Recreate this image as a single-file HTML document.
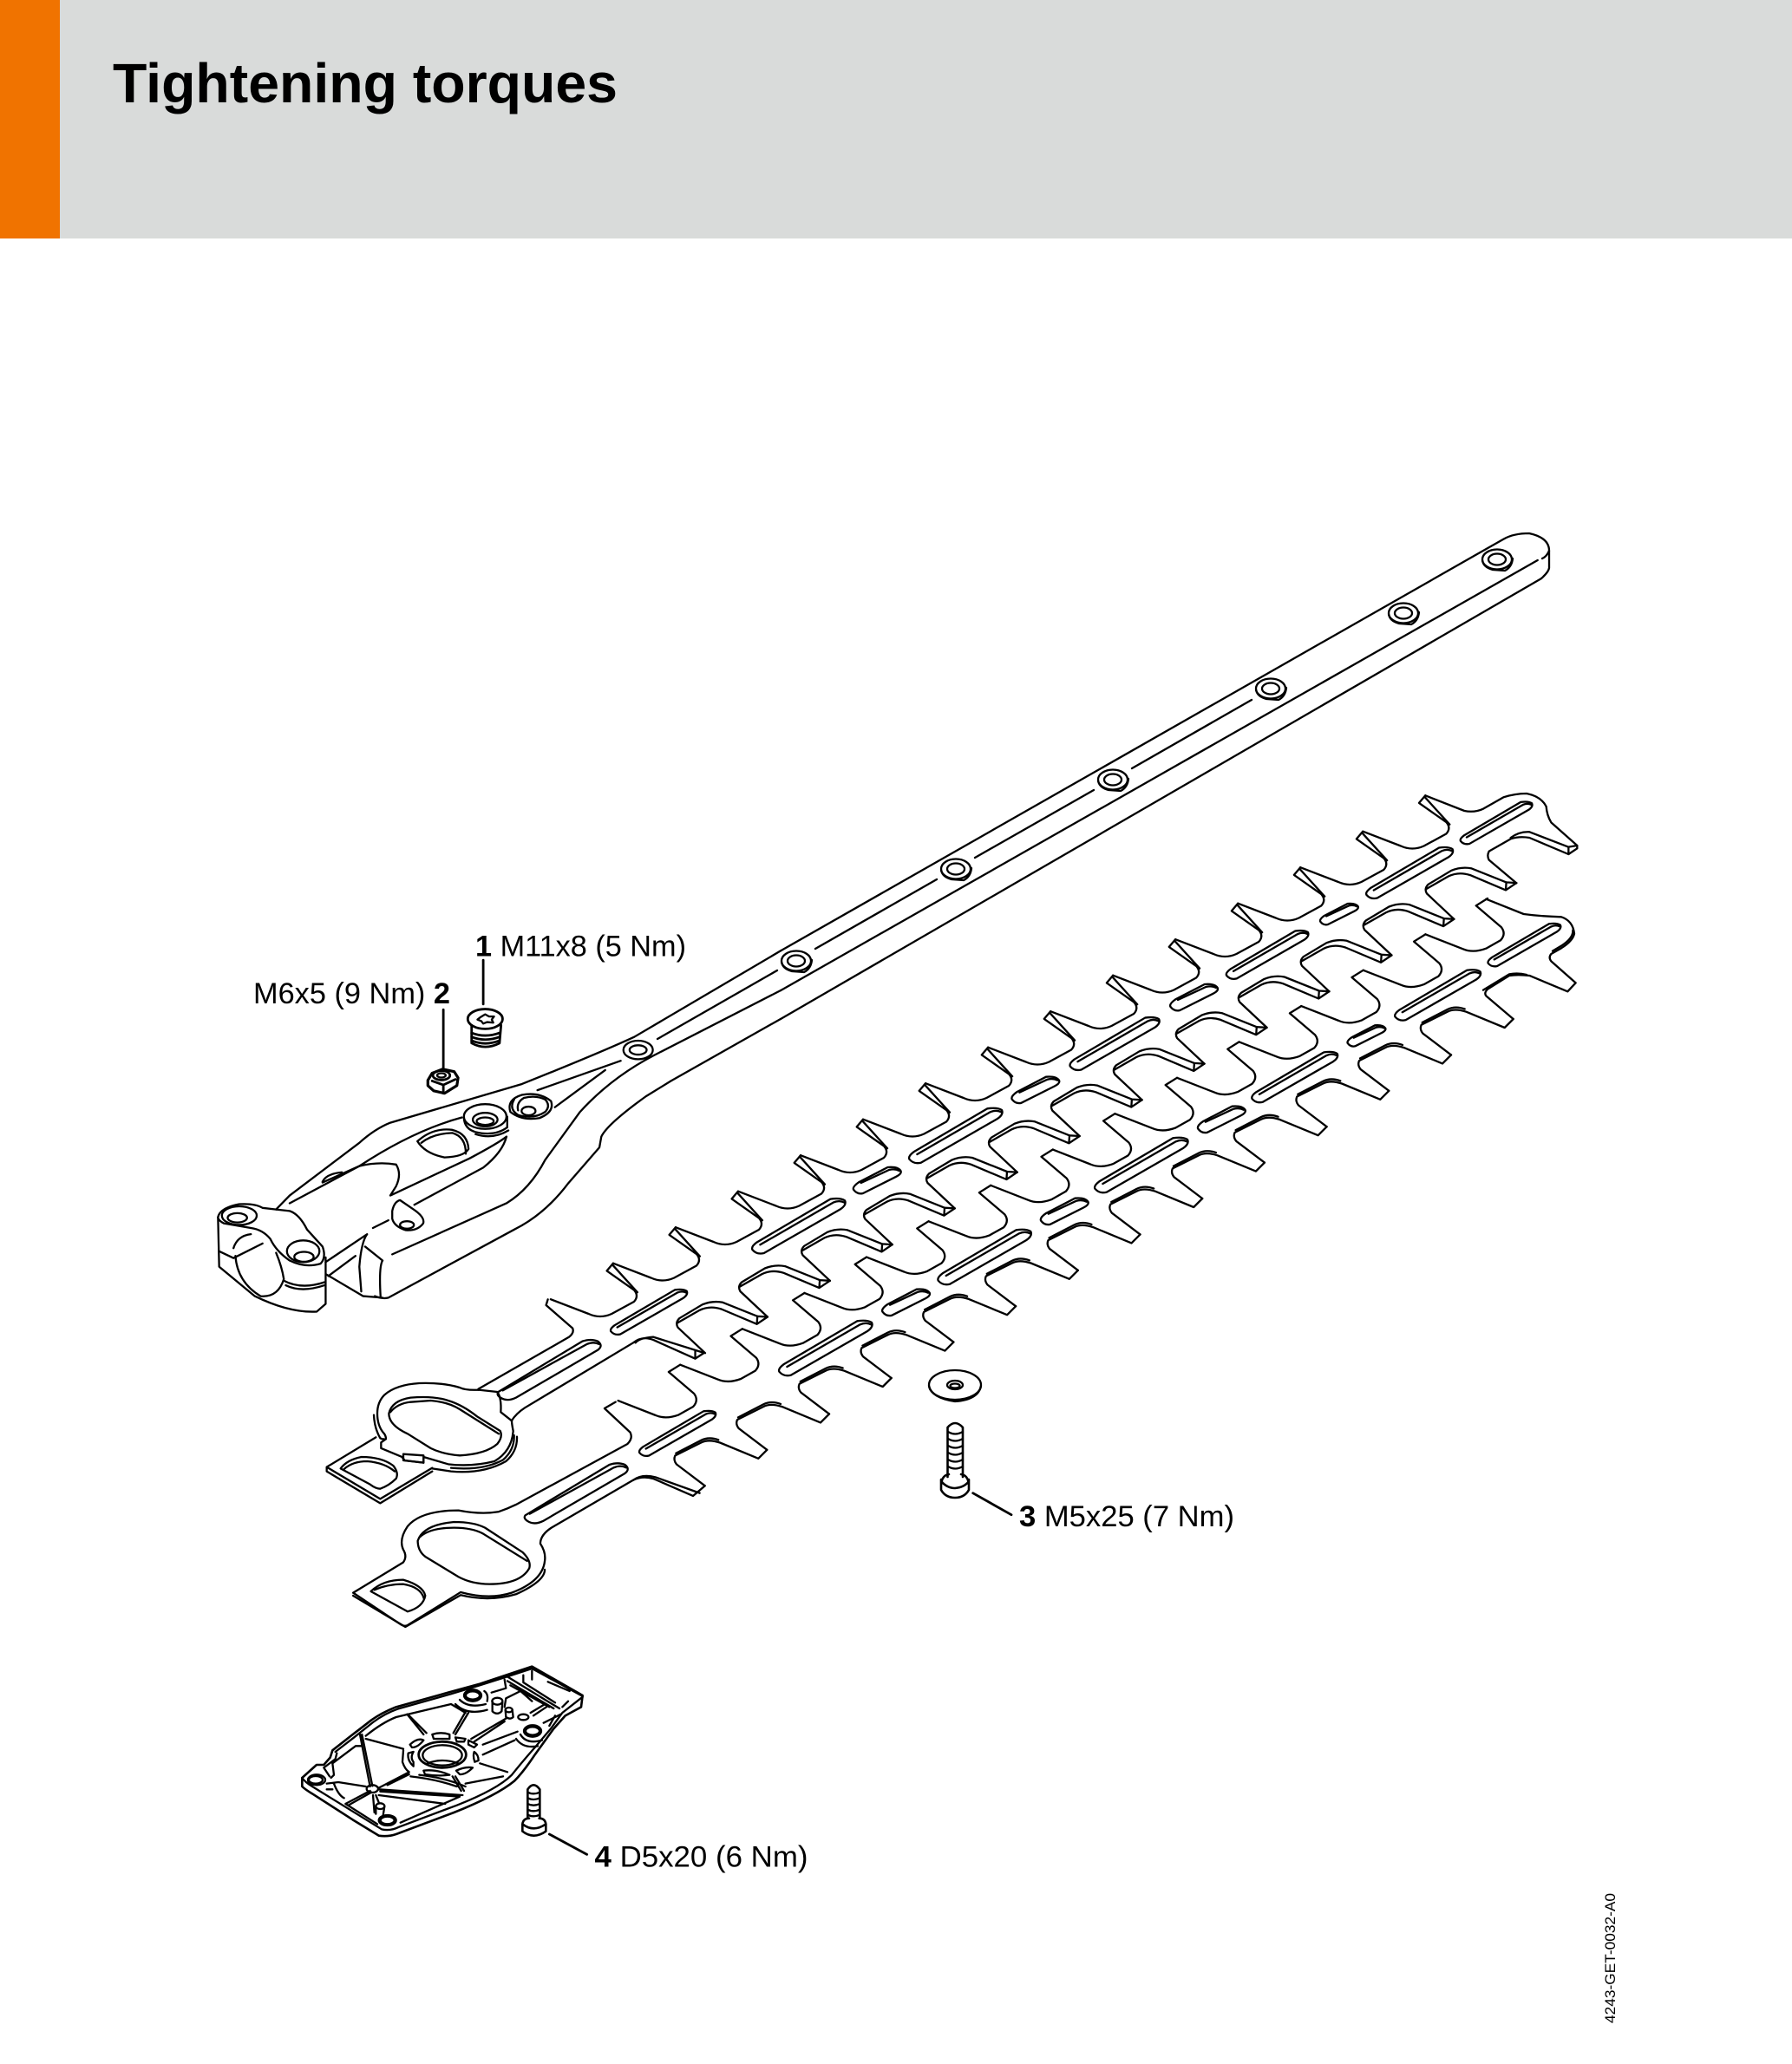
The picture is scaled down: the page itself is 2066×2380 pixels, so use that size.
<!DOCTYPE html>
<html><head><meta charset="utf-8"><title>Tightening torques</title>
<style>
html,body{margin:0;padding:0;background:#fff}
svg{display:block}
path,line,ellipse,polygon{fill:none;stroke:#000;stroke-width:2.3;vector-effect:non-scaling-stroke;stroke-linejoin:round;stroke-linecap:round}
text{font-family:"Liberation Sans",sans-serif;fill:#000}
</style></head><body>
<svg xmlns="http://www.w3.org/2000/svg" width="2066" height="2380" viewBox="0 0 2066 2380">
<defs>
<g id="T"><path d="M0 0L-7.3 8.7L24.3 31Q30 37.7 24 44.3L-1.7 58.3Q-15 64.3-28.3 58.3L-72 41.5"/><path d="M-1 1.5L28 33.5"/></g>
<g id="R"><path d="M0 0L-11.7-.7L-51.7-16.7Q-63.3-19-75-14.3L-101.7 1.7Q-106.7 6.7-103.3 12.3L-71.95 41.7"/><path d="M0 0L-12.3 8.3L-53.3-9Q-66.7-13.3-78.3-7.7L-104 7M-11.7-.7L-12.3 8.3"/></g>
<g id="U"><path d="M0 0L-13.3 8.3L16 33.3Q21.7 41 15 48.3L-1.7 57.7Q-16.7 63.3-28.3 58.3L-71.6 41.36"/></g>
<g id="V"><path d="M0 0L-10 10L-54.3-8.3Q-67.7-12.7-76-8.3L-106 6.7Q-108.3 11.7-104.3 16.7L-71.7 41.4"/><path d="M-56-11.5Q-67-15.5-76-11L-105 4"/></g>
<g id="L"><path d="M-40 30.7L48.3-20Q55.7-25 53.3-30Q48.3-33.3 36.7-31.7L-48.3 18.3Q-55 23.3-53.3 26.7Q-48.3 32.7-40 30.7Z"/><path d="M-44.3 21L40-27.7Q46.7-30.7 52.7-27.7"/></g>
<g id="S"><path d="M-15.7 15L22.7-4.3Q29.3-7.7 27.7-11Q24.3-16 12.7-15L-20.7 2.3Q-28 7.3-26.7 10.7Q-22.3 16.7-15.7 15Z"/><path d="M-18 3L14.3-12Q21-13.7 26-11"/></g>
<g id="W"><ellipse cx="0" cy="0" rx="17" ry="11.5"/><ellipse cx="0" cy="0" rx="10" ry="6.5"/><path d="M-17 1Q-16 9-5 12L9 13Q17 9 18-1"/></g>
</defs>

<rect x="0" y="0" width="2066" height="275" fill="#d9dbda"/>
<rect x="0" y="0" width="69" height="275" fill="#f07300"/>
<text x="130" y="118" font-size="64" font-weight="700" textLength="582" lengthAdjust="spacingAndGlyphs">Tightening torques</text>

<!-- bar, right part -->
<path d="M900 1096.4L1733.3 621.7Q1745 615 1763 615Q1786 620 1786 635Q1783 642 1778 644"/>
<path d="M900 1142.1L1772.7 646"/>
<path d="M900 1175L1776.7 667.3Q1785 660 1786 655L1786 635"/>
<path d="M758 1198L896 1119M940 1094L1080 1014M1124 989L1261 911M1305 886L1443 807"/>
<use href="#W" x="1726" y="645"/><use href="#W" x="1618" y="707"/><use href="#W" x="1465" y="794"/><use href="#W" x="1283" y="899"/><use href="#W" x="1102" y="1002"/><use href="#W" x="918" y="1108"/>

<!-- handle, clamp, leaders -->
<g transform="translate(200 1000) scale(.4464 .3571)">
<path d="M1568 270L1190 548Q1100 600 900 700L560 825Q520 845 480 890L300 1060L265 1105"/>
<path d="M1568 398L1240 608Q1130 680 1050 790L960 945Q920 1040 860 1085L565 1250"/>
<path d="M1568 490L1285 690L1220 740Q1120 830 1105 870L1100 905L1020 1020Q960 1120 880 1170L555 1390Q540 1395 520 1385"/>
<path d="M1155 625L940 720M985 775L1115 655"/>
<ellipse cx="1200" cy="590" rx="38" ry="30"/><ellipse cx="1200" cy="590" rx="22" ry="15"/>
<path d="M900 735Q945 725 975 755Q985 790 945 810Q900 820 870 790Q860 750 900 735"/>
<path d="M880 750Q865 780 890 800Q930 815 960 790Q975 770 960 750Q935 735 905 745Q885 760 890 785"/>
<ellipse cx="917" cy="787" rx="18" ry="14"/>
<ellipse cx="805" cy="805" rx="55" ry="40"/><ellipse cx="805" cy="815" rx="32" ry="22"/><ellipse cx="805" cy="820" rx="22" ry="12"/>
<path d="M750 810Q752 845 780 855Q830 870 862 840L862 805"/><path d="M780 862Q825 880 865 850"/>
<path d="M630 885Q670 840 720 848Q760 860 762 910Q750 935 700 937Q650 925 630 885Z"/><path d="M640 890Q670 860 720 858Q755 870 755 925"/>
<path d="M745 808Q620 850 480 965L385 1018"/><path d="M300 1085L480 965Q530 950 575 960Q590 990 575 1030L560 1060L765 940Q840 890 860 870"/>
<path d="M622 1090L800 970Q850 920 860 870"/>
<path d="M385 1015Q395 990 435 985"/>
<path d="M565 1110Q570 1080 585 1075L620 1105Q650 1130 645 1150Q630 1175 600 1172Q570 1160 565 1135Z"/><ellipse cx="603" cy="1155" rx="18" ry="12"/>
<path d="M515 1165L555 1140"/>
<path d="M500 1185L393 1275M500 1185Q485 1210 480 1290L485 1370M400 1320L470 1255M395 1315L490 1385L540 1390M495 1225L540 1270Q530 1290 535 1390"/>
<path d="M115 1130Q120 1100 170 1088Q210 1085 230 1100L265 1105L300 1110Q325 1120 345 1170L385 1225Q395 1260 380 1280Q340 1295 300 1270Q265 1240 250 1200Q230 1170 200 1165L130 1150Q115 1140 115 1130Z"/>
<path d="M115 1130L118 1290L210 1385Q300 1440 370 1435L393 1410L393 1260"/>
<path d="M160 1255Q165 1340 225 1385Q270 1390 285 1330Q280 1290 265 1245"/>
<path d="M118 1240L155 1262L230 1215M155 1230Q165 1190 200 1185M285 1335Q330 1365 390 1340M290 1350Q330 1375 390 1350"/>
<ellipse cx="170" cy="1125" rx="45" ry="30"/><ellipse cx="165" cy="1132" rx="25" ry="15"/>
<ellipse cx="335" cy="1240" rx="42" ry="35"/><ellipse cx="337" cy="1258" rx="25" ry="16"/>
<!-- bolt 1 -->
<ellipse cx="805" cy="490" rx="45" ry="32" style="stroke-width:2.8"/>
<polygon points="805,475 815,482 828,482 822,492 826,502 810,500 800,505 795,497 785,492 793,484"/>
<path d="M770 510L770 568Q805 592 842 568L846 510" style="stroke-width:2.8"/>
<path d="M770 535Q805 552 842 535M770 548Q805 565 842 548M770 560Q805 578 842 560" style="stroke-width:2.8"/>
<line x1="800" y1="300" x2="800" y2="442" style="stroke-width:2.8"/>
<!-- nut 2 -->
<path d="M657 688L668 665L695 652L725 660L735 680L732 705L700 730L672 722L657 705Z" style="stroke-width:3.2"/>
<ellipse cx="692" cy="672" rx="22" ry="15" style="stroke-width:2.8"/><ellipse cx="692" cy="672" rx="11" ry="7"/>
<path d="M668 690L697 703L728 685M697 703L697 730" style="stroke-width:2.8"/>
<line x1="697" y1="460" x2="697" y2="648" style="stroke-width:2.8"/>
</g>

<!-- blade units -->
<use href="#T" x="1643.3" y="917.2"/><use href="#T" x="1571.2" y="958.7"/><use href="#T" x="1499.2" y="1000.2"/><use href="#T" x="1427.2" y="1041.7"/><use href="#T" x="1355.1" y="1083.2"/><use href="#T" x="1283.2" y="1124.7"/><use href="#T" x="1211.1" y="1166.2"/><use href="#T" x="1139.1" y="1207.7"/><use href="#T" x="1067" y="1249.2"/><use href="#T" x="995" y="1290.7"/><use href="#T" x="923" y="1332.2"/><use href="#T" x="850.9" y="1373.7"/><use href="#T" x="778.9" y="1415.2"/><use href="#T" x="706.9" y="1456.7"/>
<use href="#R" x="1748.3" y="1018.1"/><use href="#R" x="1676.4" y="1059.8"/><use href="#R" x="1604.4" y="1101.5"/><use href="#R" x="1532.5" y="1143.2"/><use href="#R" x="1460.5" y="1184.9"/><use href="#R" x="1388.6" y="1226.6"/><use href="#R" x="1316.6" y="1268.3"/><use href="#R" x="1244.7" y="1310"/><use href="#R" x="1172.7" y="1351.7"/><use href="#R" x="1100.7" y="1393.4"/><use href="#R" x="1028.8" y="1435.1"/><use href="#R" x="956.8" y="1476.8"/><use href="#R" x="884.9" y="1518.5"/>
<use href="#U" x="1715" y="1036"/><use href="#U" x="1643.4" y="1077.4"/><use href="#U" x="1571.8" y="1118.7"/><use href="#U" x="1500.2" y="1160.1"/><use href="#U" x="1428.6" y="1201.4"/><use href="#U" x="1357" y="1242.8"/><use href="#U" x="1285.4" y="1284.2"/><use href="#U" x="1213.8" y="1325.5"/><use href="#U" x="1142.2" y="1366.9"/><use href="#U" x="1070.6" y="1408.2"/><use href="#U" x="999" y="1449.6"/><use href="#U" x="927.4" y="1491"/><use href="#U" x="855.8" y="1532.3"/><use href="#U" x="784.2" y="1573.7"/>
<use href="#V" x="1744.7" y="1175"/><use href="#V" x="1673" y="1216.4"/><use href="#V" x="1601.3" y="1257.8"/><use href="#V" x="1529.6" y="1299.2"/><use href="#V" x="1457.9" y="1340.6"/><use href="#V" x="1386.2" y="1382"/><use href="#V" x="1314.5" y="1423.4"/><use href="#V" x="1242.8" y="1464.8"/><use href="#V" x="1171.1" y="1506.2"/><use href="#V" x="1099.4" y="1547.6"/><use href="#V" x="1027.7" y="1589"/><use href="#V" x="956" y="1630.4"/><use href="#V" x="884.3" y="1671.8"/>

<!-- slots -->
<use href="#L" transform="translate(1725 949.3) scale(.77)"/><use href="#L" transform="translate(1625 1007) scale(.93)"/><use href="#S" transform="translate(1543.5 1054) scale(.8)"/><use href="#L" transform="translate(1461 1101.4) scale(.88)"/><use href="#S" x="1376" y="1150"/><use href="#L" transform="translate(1285 1204) scale(.96)"/><use href="#S" x="1193.3" y="1256.7"/><use href="#L" x="1101.7" y="1310"/><use href="#S" x="1010.7" y="1361"/><use href="#L" x="920.7" y="1414.3"/>
<use href="#L" transform="translate(1757.3 1090) scale(.78)"/><use href="#L" transform="translate(1657.5 1147.9) scale(.92)"/><use href="#S" transform="translate(1575 1194.3) scale(.8)"/><use href="#L" transform="translate(1492.6 1242.5) scale(.92)"/><use href="#S" x="1407.8" y="1290.7"/><use href="#L" x="1315.7" y="1344"/><use href="#S" x="1226.7" y="1396.7"/><use href="#L" x="1135" y="1450"/><use href="#S" x="1044" y="1501.7"/><use href="#L" x="951.7" y="1555"/>
<use href="#L" transform="translate(748 1513.3) scale(.82)"/><use href="#L" transform="translate(781 1653.3) scale(.82)"/>

<!-- blade ends, right (crop coordinates) -->
<g transform="translate(1560 880) scale(.33333)">
<path d="M250 112L385 165Q420 172 450 158L520 118Q560 105 600 105Q650 115 668 150Q670 180 685 205L775 285L775 295L745 315L610 258Q575 252 545 262L470 305Q462 320 470 335L565 415"/>
<path d="M775 285L745 290L745 315M745 290L610 238Q575 236 545 258"/>
<path d="M460 470L590 522Q650 530 720 532Q760 545 765 590Q760 615 720 640L685 660Q675 672 685 685L770 760L742 790L610 735Q570 730 540 735L465 782Q452 795 460 805L554 885"/>
<path d="M760 578Q762 605 720 632L690 650M600 732Q570 724 540 730L450 785"/>
</g>

<!-- blade ends, left -->
<g transform="translate(350 1400) scale(.5102 .3333)">
<path d="M552 295L548 315L608 395Q612 410 600 425L395 605"/>
<path d="M905 480L885 500L790 435Q765 420 745 445L500 670Q480 690 470 715"/>
<path d="M750 445Q760 428 790 425L905 480M885 475L885 500"/>
<path d="M440 615L630 440Q650 430 665 440Q678 455 665 470L480 635Q460 650 445 635Q435 625 440 615Z"/><path d="M450 610L640 450Q655 440 668 450"/>
<path d="M907 940L880 975L790 915Q765 905 745 920L560 1085Q535 1110 535 1140Q548 1170 545 1200Q540 1270 470 1310Q420 1335 355 1308L235 1422Q228 1428 220 1420L112 1310L225 1205Q235 1185 225 1160Q215 1125 235 1080Q265 1025 350 1025Q400 1040 440 1030Q460 1020 480 1005L732 795Q745 775 738 755L680 672L705 650"/>
<path d="M745 920Q765 898 795 910L895 965"/>
<path d="M112 1320L230 1428L355 1318Q420 1342 480 1315Q545 1270 545 1230"/>
<path d="M258 1130Q270 1075 340 1065Q385 1065 410 1085L495 1170Q515 1200 510 1225Q490 1280 420 1280Q380 1280 350 1255L275 1185Q258 1165 258 1130Z"/>
<path d="M262 1118Q285 1085 340 1085Q380 1085 405 1105L505 1200"/>
<path d="M152 1305Q180 1265 225 1265Q270 1285 275 1320Q270 1360 235 1375L152 1305Z"/><path d="M160 1300Q190 1280 225 1280Q265 1290 272 1330"/>
<path d="M501 1042L691 867Q711 857 726 867Q739 882 726 897L541 1062Q521 1077 506 1062Q496 1052 501 1042Z"/><path d="M511 1037L701 877Q716 867 729 877"/>
</g>

<!-- upper ring (crop coordinates) -->
<g transform="translate(370 1570) scale(.33333)">
<path d="M545 98Q500 100 480 90Q420 72 340 75Q260 80 220 115Q195 140 195 180Q195 220 215 245Q225 255 225 268L208 280L208 300L280 330L290 342L355 350L355 330L440 355Q520 365 600 345Q660 310 665 240Q660 215 660 205"/>
<path d="M545 98L610 105Q625 125 622 175L660 205"/>
<path d="M678 260Q680 310 640 345Q560 390 450 380L385 370M668 255Q670 305 630 340Q560 378 450 368"/>
<path d="M190 262L20 365L20 380L205 490L385 380M20 365L205 475L385 368"/>
<path d="M183 185Q185 230 205 265Q215 270 218 268"/>
<path d="M235 180Q245 135 310 125Q390 118 440 135Q490 150 540 190L620 240Q630 260 610 285Q570 320 480 325Q420 320 380 300L300 250Q235 220 235 180Z"/>
<path d="M240 175Q265 145 310 140L380 135Q440 140 480 165L615 250"/>
<path d="M285 320L355 325L355 350L285 342Z"/>
<path d="M68 370Q90 340 140 330Q210 330 250 360Q270 385 260 405Q235 430 205 440Q190 440 170 425L68 370Z"/>
<path d="M80 372Q110 345 160 345Q220 350 255 380"/>
</g>

<!-- washer 3, screw 3 -->
<ellipse cx="1101" cy="1597" rx="30" ry="17"/><path d="M1071 1598Q1074 1612 1101 1616Q1128 1614 1131 1598"/><ellipse cx="1101" cy="1597" rx="9" ry="5"/><ellipse cx="1101" cy="1598" rx="5.5" ry="2.5"/>
<path d="M1092.5 1703L1092.5 1646Q1101 1636 1110 1646L1110 1703" style="stroke-width:2.6"/>
<path d="M1093 1651Q1101 1656 1110 1651M1093 1659Q1101 1664 1110 1659M1093 1667Q1101 1672 1110 1667M1093 1675Q1101 1680 1110 1675M1093 1683Q1101 1688 1110 1683M1093 1691Q1101 1696 1110 1691"/>
<path d="M1085 1712Q1086 1701 1094 1700M1117 1712Q1116 1701 1108 1700M1085 1706L1085 1718Q1090 1727 1101 1727Q1112 1727 1117 1718L1117 1706M1085 1708Q1092 1716 1101 1716Q1112 1715 1117 1708" style="stroke-width:2.6"/>
<line x1="1121.7" y1="1721.7" x2="1166" y2="1746.7" style="stroke-width:2.8"/>

<!-- base plate and screw 4 (crop coordinates) -->
<g transform="translate(340 1900) scale(.33333)">
<path d="M820 65L640 125L530 155L350 205Q300 225 265 250Q220 285 200 300L130 355L122 380L100 405L75 405L25 450L25 480Q35 490 60 505L200 595L290 650Q320 655 350 645L550 570Q700 510 760 460Q790 430 830 370L895 280L935 235L990 205L995 165L820 65Z" style="stroke-width:2.6"/>
<path d="M820 72L735 100L640 130L540 160L355 212Q310 228 270 258L205 310L140 360"/>
<path d="M25 450Q35 465 60 480L300 628Q330 635 360 620L560 545Q700 490 750 440Q790 390 830 345L885 280L925 225L995 170"/>
<path d="M735 100L890 195L915 210M820 72L990 165M820 80L820 110M790 95L790 120L900 190M875 118L950 150M925 205L945 185"/>
<ellipse cx="510" cy="370" rx="82" ry="45" style="stroke-width:2.8"/><ellipse cx="510" cy="372" rx="68" ry="35"/><path d="M458 400Q510 380 565 400"/>
<path d="M475 300Q505 290 535 300L535 315L480 315ZM398 335Q425 310 445 320Q425 345 405 345ZM392 365Q388 390 410 410L410 395Q398 380 410 360ZM445 425Q490 420 535 440Q490 445 450 438ZM558 425Q590 410 615 415Q590 440 570 438ZM620 360Q635 370 635 390L622 395Q615 375 620 360ZM600 320L630 335L620 345L600 335ZM555 310L590 315L585 325L560 325Z"/>
<path d="M388 230L445 300M395 235L455 295M600 225L555 300M590 222L548 295M730 245L610 315M725 255L620 325"/>
<path d="M650 370L760 320M770 290L650 335M640 400L735 430"/>
<path d="M225 300L260 480M232 300L268 478M245 315L375 350M375 355L372 395Q380 420 395 430L290 485M395 438L320 475"/>
<path d="M245 305Q300 260 350 240L540 195L590 225"/>
<path d="M555 445L585 495M545 445L575 495M290 490L580 510M295 497L570 515L365 605M290 510L520 540M430 440Q520 450 590 480M400 445Q490 455 560 480M720 445L590 470"/>
<ellipse cx="75" cy="457" rx="30" ry="18"/><ellipse cx="72" cy="457" rx="24" ry="13"/>
<ellipse cx="268" cy="488" rx="20" ry="13"/><ellipse cx="320" cy="597" rx="30" ry="18"/><ellipse cx="320" cy="597" rx="24" ry="13"/>
<ellipse cx="295" cy="548" rx="15" ry="10"/><path d="M280 548L280 575M310 548L305 580"/>
<path d="M175 540L260 495M185 545L265 500M175 540L285 610M270 510L275 570M280 510L290 535"/>
<path d="M110 470L150 465L245 480M135 470Q150 510 170 520M110 490L130 490"/>
<path d="M145 365L140 385L100 415L120 445M130 400L210 340L230 340M125 450L135 440L130 400"/>
<ellipse cx="615" cy="165" rx="30" ry="20"/><ellipse cx="615" cy="165" rx="24" ry="14"/>
<path d="M570 180Q600 210 660 195M555 195Q595 235 665 215M655 150Q670 160 665 185"/>
<ellipse cx="822" cy="288" rx="30" ry="20"/><ellipse cx="822" cy="288" rx="24" ry="14"/>
<path d="M780 300Q800 335 855 320M765 315Q790 350 840 340"/>
<ellipse cx="700" cy="185" rx="18" ry="12"/><path d="M683 185L683 220Q700 235 715 220L718 190"/>
<ellipse cx="740" cy="215" rx="12" ry="8"/><path d="M728 215L730 240Q745 250 755 240L752 215"/>
<ellipse cx="790" cy="240" rx="18" ry="10"/>
<path d="M680 155L730 140L725 110M780 150L730 175L725 205M775 145L820 185M745 130L880 205M735 115L895 210M815 225L865 195M825 235L870 205M860 260L920 230M880 270L900 235"/>
<path d="M805 590L805 490Q825 460 847 490L847 590" style="stroke-width:2.6"/>
<path d="M805 500Q825 510 847 500M805 520Q825 530 847 520M805 540Q825 550 847 540M805 560Q825 570 847 560M805 578Q825 588 847 578"/>
<path d="M787 610Q790 590 810 590M868 610Q865 590 845 590M787 610L787 635Q825 665 868 635L868 610M787 610Q825 640 868 610" style="stroke-width:2.6"/>
<line x1="880" y1="645" x2="1010" y2="715" style="stroke-width:2.8"/>
</g>

<!-- text labels -->
<text x="548" y="1102.5" font-size="34" textLength="243" lengthAdjust="spacingAndGlyphs"><tspan font-weight="700">1</tspan> M11x8 (5 Nm)</text>
<text x="292" y="1157" font-size="34" textLength="227" lengthAdjust="spacingAndGlyphs">M6x5 (9 Nm) <tspan font-weight="700">2</tspan></text>
<text x="1175" y="1760" font-size="34" textLength="248" lengthAdjust="spacingAndGlyphs"><tspan font-weight="700">3</tspan> M5x25 (7 Nm)</text>
<text x="685.5" y="2152.5" font-size="34" textLength="246" lengthAdjust="spacingAndGlyphs"><tspan font-weight="700">4</tspan> D5x20 (6 Nm)</text>
<text transform="translate(1862 2333) rotate(-90)" font-size="17" textLength="150" lengthAdjust="spacingAndGlyphs">4243-GET-0032-A0</text>
</svg>
</body></html>
